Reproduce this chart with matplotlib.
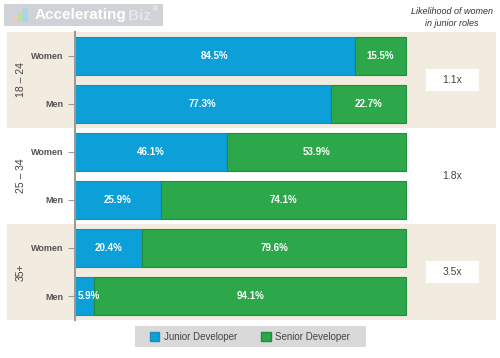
import matplotlib.pyplot as plt
from matplotlib.patches import Rectangle, Patch

plt.rcParams['font.family'] = ['Liberation Sans', 'DejaVu Sans']

groups = ["18 – 24", "25 – 34", "35+"]
genders = ["Women", "Men"]
junior = [84.5, 77.3, 46.1, 25.9, 20.4, 5.9]
senior = [15.5, 22.7, 53.9, 74.1, 79.6, 94.1]
likelihood = ["1.1x", "1.8x", "3.5x"]

blue = "#0d9fd8"
green = "#2ca84b"
beige = "#f2ebe0"

fig = plt.figure(figsize=(5, 3.58), dpi=100)
ax = fig.add_axes([7/500, 1-320/358, 489/500, 288/358])

ypos = list(range(len(junior)))
ax.set_ylim(5.5, -0.5)
ax.set_xlim(-20.5, 127.2)

# shaded bands for first and last age group
for g in range(len(groups)):
    if g % 2 == 0:
        ax.axhspan(2*g - 0.5, 2*g + 1.5, color=beige, zorder=0, lw=0)

ax.barh(ypos, junior, height=0.79, color=blue, edgecolor="#1a8cc0", lw=0.8, zorder=2)
ax.barh(ypos, senior, left=junior, height=0.79, color=green, edgecolor="#1f8e3a", lw=0.8, zorder=2)

for y, j, s in zip(ypos, junior, senior):
    if j < 10:
        ax.text(1, y, f"{j}%", ha="left", va="center", color="white", fontsize=7, fontweight="bold", zorder=3)
    else:
        ax.text(j/2, y, f"{j}%", ha="center", va="center", color="white", fontsize=7, fontweight="bold", zorder=3)
    ax.text(j + s/2, y, f"{s}%", ha="center", va="center", color="white", fontsize=7, fontweight="bold", zorder=3)

# axis styling
for side in ["top", "right", "bottom"]:
    ax.spines[side].set_visible(False)
ax.spines["left"].set_position(("data", 0))
ax.spines["left"].set_color("#9a9a9a")
ax.spines["left"].set_linewidth(1.5)
ax.spines["left"].set_zorder(4)
ax.set_xticks([])
ax.set_yticks(ypos)
ax.set_yticklabels(genders * len(groups), fontsize=6.5, fontweight="bold", color="#555555")
ax.tick_params(axis="y", length=5, width=0.8, color="#9a9a9a", pad=3)
ax.patch.set_alpha(0)

for g, name in enumerate(groups):
    ax.text(-16.3, 2*g + 0.5, name, rotation=90, ha="center", va="center", fontsize=7.5, color="#444444")
    yc = 2*g + 0.5
    if g % 2 == 0:
        ax.add_patch(Rectangle((114 - 8, yc - 0.22), 16, 0.44, facecolor="white", edgecolor="none", zorder=2))
    ax.text(114, yc, likelihood[g], ha="center", va="center", fontsize=7.5, color="#444444", zorder=3)

fig.text(452/500, 1-12/358, "Likelihood of women", ha="center", va="center", fontsize=6.5, style="italic", color="#333333")
fig.text(452/500, 1-23/358, "in junior roles", ha="center", va="center", fontsize=6.5, style="italic", color="#333333")

# logo
fig.patches.append(Rectangle((4/500, 1-26/358), 159/500, 22/358, transform=fig.transFigure, facecolor="#cfd2d7", edgecolor="none"))
for i, (c, h) in enumerate([("#f6c9a0", 5), ("#b9e0a8", 9), ("#a9d4ee", 14)]):
    fig.patches.append(Rectangle(((13 + i*5)/500, 1-22/358), 5/500, h/358, transform=fig.transFigure, facecolor=c, edgecolor="none"))
fig.text(35/500, 1-15.5/358, "Accelerating", ha="left", va="center", fontsize=11, fontweight="bold", color="white")
fig.text(128/500, 1-15.5/358, "Biz", ha="left", va="center", fontsize=11, fontweight="bold", color="#e4e6e9")
fig.text(153/500, 1-10/358, "®", ha="left", va="center", fontsize=5, color="white")

# legend
fig.patches.append(Rectangle((135/500, 1-347/358), 231/500, 21/358, transform=fig.transFigure, facecolor="#d9d9d9", edgecolor="none"))
handles = [Patch(facecolor=blue, edgecolor="#1a8cc0", label="Junior Developer"),
           Patch(facecolor=green, edgecolor="#1f8e3a", label="Senior Developer")]
fig.legend(handles=handles, loc="center", bbox_to_anchor=(250/500, 1-336.5/358), ncol=2, frameon=False,
           fontsize=7, handlelength=1.0, handleheight=1.0, handletextpad=0.5, columnspacing=2.4,
           labelcolor="#444444")

fig.savefig("out.png", dpi=100)
